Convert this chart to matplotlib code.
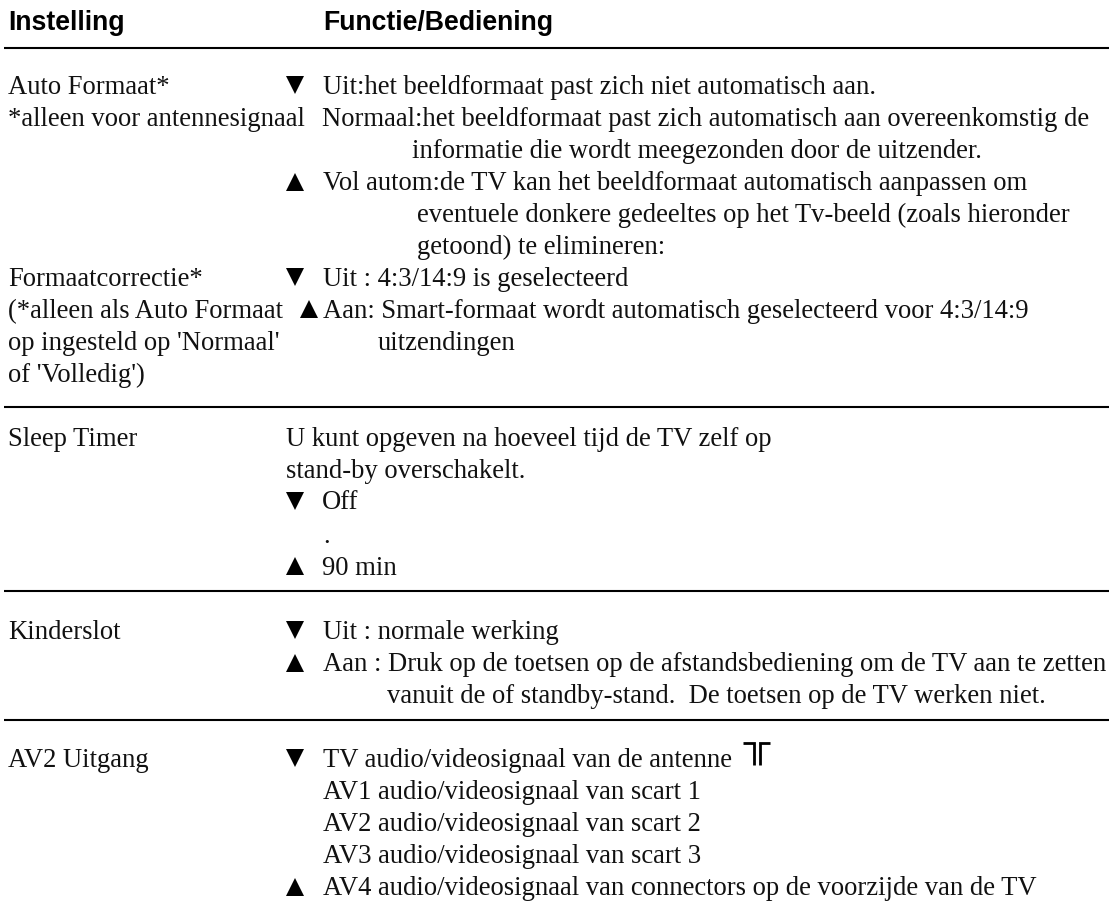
import matplotlib
matplotlib.use('Agg')
import matplotlib.pyplot as plt

plt.rcParams['font.family'] = ['Liberation Serif', 'DejaVu Sans']

W, H = 1109, 910
FS = 19.15

# teksten
kop = ['Instelling', 'Functie/Bediening']

links = ['Auto Formaat*', '*alleen voor antennesignaal', 'Formaatcorrectie*',
         "(*alleen als Auto Formaat", "op ingesteld op 'Normaal'", "of 'Volledig')",
         'Sleep Timer', 'Kinderslot', 'AV2 Uitgang']
links_y = [94, 126, 286, 318, 350, 382, 446, 639, 767]

rechts = ['Uit:het beeldformaat past zich niet automatisch aan.',
          'Normaal:het beeldformaat past zich automatisch aan overeenkomstig de',
          'informatie die wordt meegezonden door de uitzender.',
          'Vol autom:de TV kan het beeldformaat automatisch aanpassen om',
          'eventuele donkere gedeeltes op het Tv-beeld (zoals hieronder',
          'getoond) te elimineren:',
          'Uit : 4:3/14:9 is geselecteerd',
          'Aan: Smart-formaat wordt automatisch geselecteerd voor 4:3/14:9',
          'uitzendingen',
          'U kunt opgeven na hoeveel tijd de TV zelf op',
          'stand-by overschakelt.',
          'Off', '.', '90 min',
          'Uit : normale werking',
          'Aan : Druk op de toetsen op de afstandsbediening om de TV aan te zetten',
          'vanuit de of standby-stand.  De toetsen op de TV werken niet.',
          'TV audio/videosignaal van de antenne',
          'AV1 audio/videosignaal van scart 1',
          'AV2 audio/videosignaal van scart 2',
          'AV3 audio/videosignaal van scart 3',
          'AV4 audio/videosignaal van connectors op de voorzijde van de TV']
rechts_x = [323, 322, 412, 323, 417, 417, 323, 323, 378, 286, 286, 322, 323, 322,
            323, 323, 387, 323, 323, 323, 323, 323]
rechts_y = [94, 126, 158, 190, 222, 254, 286, 318, 350, 446, 478, 509, 543, 575,
            639, 671, 703, 767, 799, 831, 863, 895]

lijnen_y = [48, 407, 591, 720]

omlaag_y = [85, 277, 501, 630, 758]
omhoog_y = [182, 309, 566, 663, 887]
omhoog_x = [295, 309, 295, 295, 295]

fig = plt.figure(figsize=(W / 100, H / 100), dpi=100)
ax = fig.add_axes([0, 0, 1, 1])
ax.set_xlim(0, W)
ax.set_ylim(H, 0)
ax.axis('off')

ax.text(8, 30, kop[0], fontsize=FS, fontweight='bold', family='Liberation Sans')
ax.text(323, 30, kop[1], fontsize=FS, fontweight='bold', family='Liberation Sans')

for t, y in zip(links, links_y):
    ax.text(8, y, t, fontsize=FS, color='#111111')
for t, x, y in zip(rechts, rechts_x, rechts_y):
    ax.text(x, y, t, fontsize=FS, color='#111111')

for y in lijnen_y:
    ax.plot([4, W], [y, y], color='black', lw=1.5, solid_capstyle='butt')

ax.plot([295] * len(omlaag_y), omlaag_y, 'v', color='black', ms=13.5, mew=0, ls='none')
ax.plot(omhoog_x, omhoog_y, '^', color='black', ms=13.5, mew=0, ls='none')

# antenne symbool
ax.plot([743, 754, 754], [743, 743, 765], color='black', lw=2, solid_joinstyle='miter', solid_capstyle='butt')
ax.plot([770, 760, 760], [743, 743, 765], color='black', lw=2, solid_joinstyle='miter', solid_capstyle='butt')

fig.savefig('out.png', dpi=100)
